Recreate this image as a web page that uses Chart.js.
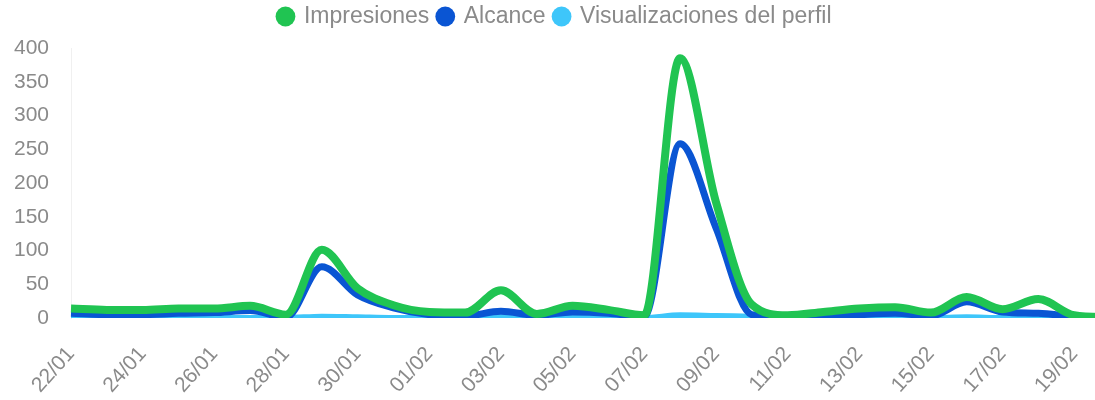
<!DOCTYPE html>
<html>
<head>
<meta charset="utf-8">
<script src="https://cdn.jsdelivr.net/npm/chart.js@4.4.1/dist/chart.umd.min.js"></script>
<style>
  html, body { margin: 0; padding: 0; background: #fff; overflow: hidden; }
  #wrap { position: relative; width: 1112px; height: 400px; }
</style>
</head>
<body>
<div id="wrap"><canvas id="chart"></canvas></div>
<script>
// dates shown on the x axis (only every second one gets a label)
const fechas = ['22/01','23/01','24/01','25/01','26/01','27/01','28/01','29/01','30/01','31/01',
  '01/02','02/02','03/02','04/02','05/02','06/02','07/02','08/02','09/02','10/02',
  '11/02','12/02','13/02','14/02','15/02','16/02','17/02','18/02','19/02','20/02'];

const impresiones = [14, 12, 12, 14, 14, 18, 5, 101, 44, 19, 9, 8, 41, 6, 18, 12, 4, 385, 172, 20,
  4, 9, 14, 16, 8, 31, 13, 28, 4, 1];
const alcance = [7, 5, 5, 7, 8, 11, 1, 76, 34, 15, 5, 3, 10, 4, 9, 7, 2, 258, 134, 5,
  2, 2, 5, 7, 3, 24, 9, 7, 2, 0];
const visualizaciones = [0, 0, 0, 0, 0, 0, 0, 2, 1, 0, 0, 0, 1, 0, 0, 0, 0, 4, 3, 2,
  1, 0, 0, 0, 0, 1, 0, 0, 0, 0];

const yTicks = [0, 50, 100, 150, 200, 250, 300, 350, 400];

const textColor = '#8a8a8a';
const fontFamily = "'Liberation Sans', Arial, sans-serif";

function serie(label, data, color, width) {
  return {
    label: label,
    data: data,
    borderColor: color,
    backgroundColor: color,
    borderWidth: width,
    pointRadius: 0,
    pointHoverRadius: 0,
    cubicInterpolationMode: 'monotone',
    fill: false
  };
}

// leave some room between legend and plot
const legendGap = {
  id: 'legendGap',
  beforeInit(chart) {
    const fit = chart.legend.fit;
    chart.legend.fit = function () {
      fit.call(this);
      this.height += 10;
    };
  }
};

const ctx = document.getElementById('chart').getContext('2d');
new Chart(ctx, {
  type: 'line',
  data: {
    labels: fechas,
    datasets: [
      serie('Impresiones', impresiones, '#20c452', 8),
      serie('Alcance', alcance, '#0a55d3', 7),
      serie('Visualizaciones del perfil', visualizaciones, '#3ec6fa', 6)
    ]
  },
  plugins: [legendGap],
  options: {
    responsive: true,
    maintainAspectRatio: false,
    animation: false,
    layout: { padding: { top: -4, right: 2, bottom: 0, left: 0 } },
    plugins: {
      legend: {
        display: true,
        position: 'top',
        labels: {
          usePointStyle: true,
          pointStyle: 'circle',
          boxWidth: 14,
          boxHeight: 14,
          padding: 9,
          color: textColor,
          font: { family: fontFamily, size: 23 },
          generateLabels: function (chart) {
            const items = Chart.defaults.plugins.legend.labels.generateLabels(chart);
            items.forEach(it => { it.lineWidth = 0; });
            return items;
          }
        }
      },
      tooltip: { enabled: false }
    },
    scales: {
      x: {
        grid: { display: false, drawTicks: false },
        border: { display: false },
        ticks: {
          autoSkip: false,
          minRotation: 48,
          maxRotation: 48,
          padding: 24,
          color: textColor,
          font: { family: fontFamily, size: 21 },
          callback: function (value, index) {
            return index % 2 === 0 ? fechas[index] : '';
          }
        },
        afterFit: function (scale) {
          scale.height = 82;
          scale.paddingRight = 0;
        }
      },
      y: {
        min: yTicks[0],
        max: yTicks[yTicks.length - 1],
        grid: { display: false, drawTicks: false },
        border: { display: true, color: '#f0f0f0', width: 1 },
        afterBuildTicks: function (scale) {
          scale.ticks = yTicks.map(v => ({ value: v }));
        },
        ticks: {
          padding: 22,
          color: textColor,
          font: { family: fontFamily, size: 21 }
        },
        afterFit: function (scale) { scale.width = 71; }
      }
    }
  }
});
</script>
</body>
</html>
